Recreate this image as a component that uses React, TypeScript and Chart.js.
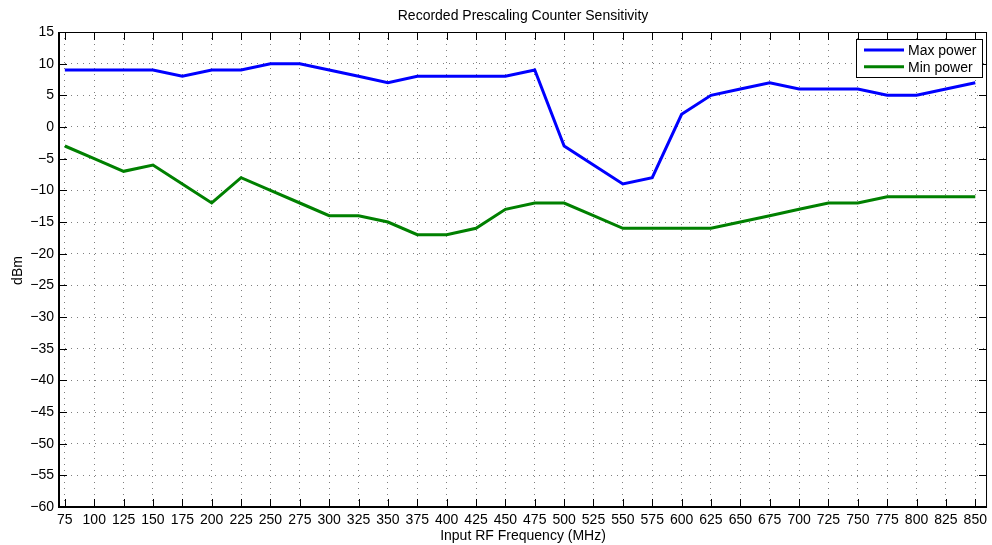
import React, { useEffect, useRef } from 'react';
import { Chart, registerables } from 'chart.js';

Chart.register(...registerables);

const freqs = [75, 100, 125, 150, 175, 200, 225, 250, 275, 300, 325, 350, 375, 400, 425, 450, 475, 500, 525, 550, 575, 600, 625, 650, 675, 700, 725, 750, 775, 800, 825, 850];
const maxPower = [9, 9, 9, 9, 8, 9, 9, 10, 10, 9, 8, 7, 8, 8, 8, 8, 9, -3, -6, -9, -8, 2, 5, 6, 7, 6, 6, 6, 5, 5, 6, 7];
const minPower = [-3, -5, -7, -6, -9, -12, -8, -10, -12, -14, -14, -15, -17, -17, -16, -13, -12, -12, -14, -16, -16, -16, -16, -15, -14, -13, -12, -12, -11, -11, -11, -11];
const xTicks = [75, 100, 125, 150, 175, 200, 225, 250, 275, 300, 325, 350, 375, 400, 425, 450, 475, 500, 525, 550, 575, 600, 625, 650, 675, 700, 725, 750, 775, 800, 825, 850];
const yTicks = [-60, -55, -50, -45, -40, -35, -30, -25, -20, -15, -10, -5, 0, 5, 10, 15];
const seriesLabels = ['Max power', 'Min power'];
const seriesColors = ['#0000ff', '#008000'];
const chartTitle = 'Recorded Prescaling Counter Sensitivity';
const xTitle = 'Input RF Frequency (MHz)';
const yTitle = 'dBm';

const FAMILY = '"Liberation Sans", Arial, Helvetica, sans-serif';
const FONT = '14px ' + FAMILY;

const fmt = (v: number) => (v < 0 ? '\u2212' + Math.abs(v) : String(v));

const matlabPlugin = {
  id: 'matlabDecor',
  afterDatasetsDraw(chart: any) {
    const { ctx, chartArea: a, scales } = chart;
    const xs = scales.x;
    const ys = scales.y;
    ctx.save();
    ctx.strokeStyle = '#000';
    ctx.lineWidth = 1;
    ctx.beginPath();
    xTicks.forEach((v) => {
      const px = Math.round(xs.getPixelForValue(v)) + 0.5;
      ctx.moveTo(px, a.bottom);
      ctx.lineTo(px, a.bottom - 8);
      ctx.moveTo(px, a.top);
      ctx.lineTo(px, a.top + 8);
    });
    yTicks.forEach((v) => {
      const py = Math.round(ys.getPixelForValue(v)) + 0.5;
      ctx.moveTo(a.left, py);
      ctx.lineTo(a.left + 8, py);
      ctx.moveTo(a.right, py);
      ctx.lineTo(a.right - 8, py);
    });
    ctx.stroke();
    ctx.lineWidth = 1;
    ctx.beginPath();
    ctx.moveTo(a.left, a.top + 0.5);
    ctx.lineTo(a.right, a.top + 0.5);
    ctx.moveTo(a.right - 0.5, a.top);
    ctx.lineTo(a.right - 0.5, a.bottom);
    ctx.stroke();
    ctx.lineWidth = 2;
    ctx.beginPath();
    ctx.moveTo(a.left, a.top);
    ctx.lineTo(a.left, a.bottom);
    ctx.moveTo(a.left - 1, a.bottom);
    ctx.lineTo(a.right, a.bottom);
    ctx.stroke();

    // legend
    const lx = 856.5, ly = 39.5, lw = 126, lh = 38;
    ctx.fillStyle = '#fff';
    ctx.fillRect(lx, ly, lw, lh);
    ctx.lineWidth = 1;
    ctx.strokeStyle = '#000';
    ctx.strokeRect(lx, ly, lw, lh);
    ctx.font = FONT;
    ctx.textBaseline = 'middle';
    ctx.textAlign = 'left';
    chart.data.datasets.forEach((ds: any, i: number) => {
      const yy = 50 + i * 16.7;
      ctx.strokeStyle = ds.borderColor;
      ctx.lineWidth = ds.borderWidth;
      ctx.beginPath();
      ctx.moveTo(864, yy);
      ctx.lineTo(904, yy);
      ctx.stroke();
      ctx.fillStyle = '#000';
      ctx.fillText(ds.label, 908, yy + 1);
    });

    ctx.fillStyle = '#000';
    ctx.textAlign = 'center';
    ctx.textBaseline = 'middle';
    const cx = (a.left + a.right) / 2;
    ctx.fillText(chartTitle, cx, 16);
    ctx.fillText(xTitle, cx, 536);
    ctx.save();
    ctx.translate(18, (a.top + a.bottom) / 2 + 1);
    ctx.rotate(-Math.PI / 2);
    ctx.fillText(yTitle, 0, 0);
    ctx.restore();
    ctx.restore();
  },
};

export default function App() {
  const ref = useRef<HTMLCanvasElement | null>(null);
  useEffect(() => {
    document.body.style.margin = '0';
    const canvas = ref.current!;
    const chart = new Chart(canvas, {
      type: 'line',
      data: {
        datasets: [
          {
            label: seriesLabels[0],
            data: freqs.map((f, i) => ({ x: f, y: maxPower[i] })),
            borderColor: seriesColors[0],
            backgroundColor: seriesColors[0],
            borderWidth: 3,
            pointRadius: 0,
            tension: 0,
          },
          {
            label: seriesLabels[1],
            data: freqs.map((f, i) => ({ x: f, y: minPower[i] })),
            borderColor: seriesColors[1],
            backgroundColor: seriesColors[1],
            borderWidth: 3,
            pointRadius: 0,
            tension: 0,
          },
        ],
      },
      options: {
        animation: false,
        responsive: false,
        events: [],
        layout: { padding: { left: 0, right: 3, top: 32, bottom: 0 } },
        plugins: {
          legend: { display: false },
          title: { display: false },
          tooltip: { enabled: false },
        },
        scales: {
          x: {
            type: 'linear',
            min: 70,
            max: 860,
            afterBuildTicks: (s: any) => {
              s.ticks = xTicks.map((v) => ({ value: v }));
            },
            afterFit: (s: any) => {
              s.height = 38;
            },
            ticks: {
              autoSkip: false,
              maxRotation: 0,
              padding: 5,
              color: '#000',
              font: { family: FAMILY, size: 14 },
              callback: (v: any) => fmt(Number(v)),
            },
            grid: { color: 'rgba(0,0,0,0.5)', lineWidth: 1, drawTicks: false },
            border: { display: false, dash: [1, 5] },
          },
          y: {
            type: 'linear',
            min: -60,
            max: 15,
            afterBuildTicks: (s: any) => {
              s.ticks = yTicks.map((v) => ({ value: v }));
            },
            afterFit: (s: any) => {
              s.width = 59;
            },
            ticks: {
              autoSkip: false,
              padding: 5,
              color: '#000',
              font: { family: FAMILY, size: 14 },
              callback: (v: any) => fmt(Number(v)),
            },
            grid: { color: 'rgba(0,0,0,0.5)', lineWidth: 1, drawTicks: false },
            border: { display: false, dash: [1, 5] },
          },
        },
      },
      plugins: [matlabPlugin],
    });
    return () => chart.destroy();
  }, []);
  return (
    <div style={{ position: 'absolute', left: 0, top: 0, width: 992, height: 545, background: '#fff' }}>
      <canvas ref={ref} width={992} height={545} style={{ display: 'block', width: 992, height: 545 }} />
    </div>
  );
}
